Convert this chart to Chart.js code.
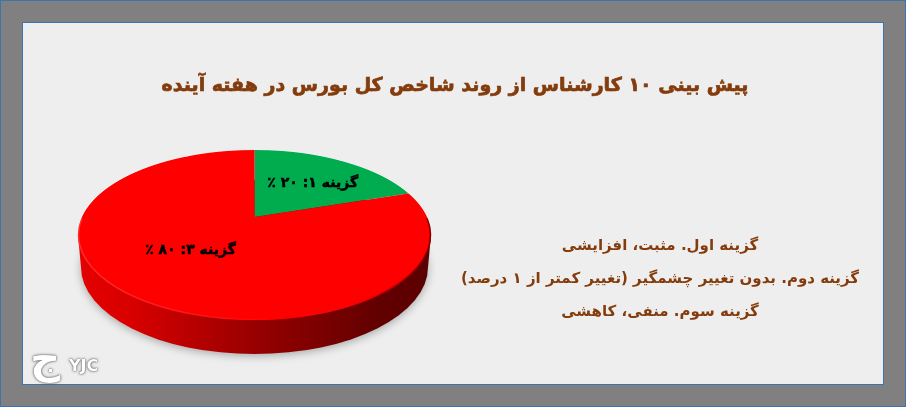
<!DOCTYPE html>
<html lang="fa">
<head>
<meta charset="utf-8">
<title>پیش بینی کارشناسان</title>
<script src="https://cdn.jsdelivr.net/npm/chart.js@4"></script>
<style>
  html, body { margin: 0; padding: 0; }
  body { width: 906px; height: 407px; background: #808080; position: relative; overflow: hidden;
         font-family: "DejaVu Sans", sans-serif; }
  #frame { position: absolute; left: 0; top: 0; width: 904px; height: 405px; border: 1px solid #3b74ae; }
  #panel { position: absolute; left: 22px; top: 22px; width: 860px; height: 361px;
           background: #eeeeee; border: 1px solid #3b74ae; }
  canvas { position: absolute; left: 0; top: 0; }
  #title { position: absolute; left: 23px; top: 66px; width: 864px; text-align: center; direction: rtl;
           color: #843c0c; font-weight: bold; font-size: 19px; line-height: 36px;
           -webkit-text-stroke: 0.7px #843c0c; white-space: nowrap; }
  #notes { position: absolute; left: 440px; top: 229px; width: 440px; text-align: center; direction: rtl;
           color: #843c0c; font-weight: bold; font-size: 15px; line-height: 33px; white-space: nowrap; }
  #logo { position: absolute; left: 30px; top: 342px; color: #fff; }
  #logo span { position: absolute; white-space: nowrap; text-shadow: 0 0 3px #555, 0 0 1px #333; font-weight: bold; }
  #logoMark { left: 0; top: -8px; font-size: 42px; }
  #logoText { left: 39px; top: 14px; font-size: 16px; }
</style>
</head>
<body>
<div id="frame"></div>
<div id="panel"></div>
<canvas id="pieChart" width="906" height="407"></canvas>
<div id="title"></div>
<div id="notes"></div>
<div id="logo"><span id="logoMark">ج</span><span id="logoText">YJC</span></div>
<script>
const titleText = 'پیش بینی ۱۰ کارشناس از روند شاخص کل بورس در هفته آینده';
const categories = ['گزینه ۱', 'گزینه ۳'];
const values = [20, 80];
const valueLabels = ['۲۰', '۸۰'];
const sliceColors = ['#00ac4e', '#ff0000'];
const notes = [
  'گزینه اول. مثبت، افزایشی',
  'گزینه دوم. بدون تغییر چشمگیر (تغییر کمتر از ۱ درصد)',
  'گزینه سوم. منفی، کاهشی'
];

document.getElementById('title').textContent = titleText;
document.getElementById('notes').innerHTML = notes.map(n => '<div>' + n + '</div>').join('');

// the picture has a perspective tilt: circle -> ellipse, apex not in the ellipse centre
const faceWidth = 172.5, faceDepth = 81.2, persp = 0.212, wallHeight = 32;
const labelRadius = [0.59, 0.507];
const labelTurn = [0.05, 0.11];

const project = (arc, u, v) => {
  const w = 1 + persp * v;
  return { x: arc.x + faceWidth * u / w, y: arc.y - faceDepth * v / w };
};

const faceEllipse = arc => {
  const top = project(arc, 0, 1).y, bottom = project(arc, 0, -1).y;
  return {
    cy: (top + bottom) / 2,
    ry: (bottom - top) / 2,
    rx: faceWidth / Math.sqrt(1 - persp * persp)
  };
};

const drawWall = (ctx, arc) => {
  const { cy, ry, rx } = faceEllipse(arc);
  const grad = ctx.createLinearGradient(arc.x - rx, 0, arc.x + rx, 0);
  grad.addColorStop(0, '#e40000');
  grad.addColorStop(0.15, '#d80000');
  grad.addColorStop(0.5, '#980000');
  grad.addColorStop(0.85, '#620000');
  grad.addColorStop(1, '#5a0000');
  ctx.save();
  ctx.shadowColor = 'rgba(0,0,0,0.3)';
  ctx.shadowBlur = 9;
  ctx.shadowOffsetY = 2;
  ctx.fillStyle = grad;
  ctx.beginPath();
  ctx.ellipse(arc.x, cy + wallHeight, rx - 3, ry + 2, 0, 0, Math.PI * 2);
  ctx.fill();
  ctx.shadowColor = 'transparent';
  ctx.beginPath();
  ctx.moveTo(arc.x - rx, cy);
  ctx.lineTo(arc.x + rx, cy);
  ctx.lineTo(arc.x + rx - 3, cy + wallHeight);
  ctx.lineTo(arc.x - rx + 3, cy + wallHeight);
  ctx.closePath();
  ctx.fill();
  ctx.restore();
};

const drawRim = (ctx, arc) => {
  const { cy, ry, rx } = faceEllipse(arc);
  const grad = ctx.createLinearGradient(arc.x - rx, 0, arc.x + rx, 0);
  grad.addColorStop(0, 'rgba(255,110,110,0.4)');
  grad.addColorStop(0.4, 'rgba(255,90,90,0.2)');
  grad.addColorStop(0.6, 'rgba(255,60,60,0)');
  grad.addColorStop(0.85, 'rgba(120,0,0,0.35)');
  grad.addColorStop(1, 'rgba(90,0,0,0.8)');
  ctx.save();
  ctx.strokeStyle = grad;
  ctx.lineWidth = 1.5;
  ctx.beginPath();
  ctx.ellipse(arc.x, cy, rx - 0.5, ry - 0.5, 0, -0.2, Math.PI + 0.2);
  ctx.stroke();
  ctx.restore();
};

const tiltedPie = {
  id: 'tiltedPie',
  beforeDatasetsDraw(chart) {
    const { ctx } = chart;
    const meta = chart.getDatasetMeta(0);
    const arc = meta.data[0];
    const R = arc.outerRadius;
    const rowToV = y => { const d = arc.y - y; return d / (faceDepth - persp * d); };
    drawWall(ctx, arc);
    // draw the library's arcs one pixel row at a time, each with its own scale
    const first = Math.floor(project(arc, 0, 1).y) - 1;
    const last = Math.ceil(project(arc, 0, -1).y) + 1;
    for (let y = first; y < last; y++) {
      const va = rowToV(y), vb = rowToV(y + 1), vm = (va + vb) / 2;
      ctx.save();
      ctx.beginPath();
      ctx.rect(0, y, chart.width, 1);
      ctx.clip();
      ctx.translate(arc.x, y);
      ctx.scale(faceWidth / R / (1 + persp * vm), 1 / (R * (va - vb)));
      ctx.translate(-arc.x, -(arc.y - R * va));
      meta.controller.draw();
      ctx.restore();
    }
    drawRim(ctx, arc);
    return false;
  },
  afterDraw(chart) {
    const { ctx } = chart;
    const meta = chart.getDatasetMeta(0);
    ctx.save();
    ctx.direction = 'rtl';
    ctx.textAlign = 'center';
    ctx.textBaseline = 'middle';
    ctx.fillStyle = '#000';
    ctx.strokeStyle = '#000';
    ctx.lineWidth = 0.5;
    ctx.font = 'bold 14px "DejaVu Sans"';
    meta.data.forEach((arc, i) => {
      const mid = (arc.startAngle + arc.endAngle) / 2 + labelTurn[i];
      const p = project(arc, labelRadius[i] * Math.cos(mid), -labelRadius[i] * Math.sin(mid));
      const text = categories[i] + ': ' + valueLabels[i] + ' ٪';
      ctx.fillText(text, p.x, p.y);
      ctx.strokeText(text, p.x, p.y);
    });
    ctx.restore();
  }
};

new Chart(document.getElementById('pieChart').getContext('2d'), {
  type: 'pie',
  data: {
    labels: categories,
    datasets: [{ data: values, backgroundColor: sliceColors, borderWidth: 0 }]
  },
  options: {
    responsive: false,
    animation: false,
    layout: { padding: { left: 78, right: 475, top: 110, bottom: 83 } },
    plugins: {
      legend: { display: false },
      tooltip: { enabled: false },
      title: { display: false }
    }
  },
  plugins: [tiltedPie]
});
</script>
</body>
</html>
